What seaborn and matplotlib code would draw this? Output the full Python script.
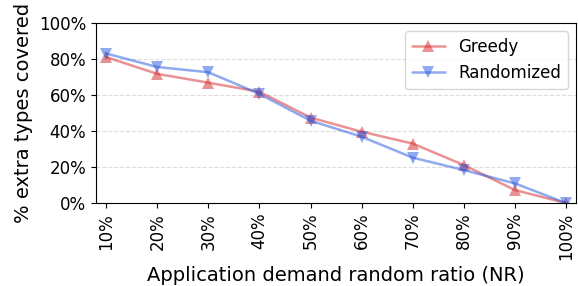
import matplotlib
matplotlib.use("Agg")
import matplotlib.pyplot as plt
import seaborn as sns
import pandas as pd
from matplotlib.ticker import PercentFormatter

ratios = ["10%", "20%", "30%", "40%", "50%", "60%", "70%", "80%", "90%", "100%"]
greedy = [81, 71.7, 66.8, 61.8, 47.4, 39.6, 33.0, 21.1, 7.2, 0]
randomized = [83, 75.5, 72.6, 60.6, 45.7, 36.8, 25.2, 18.3, 10.9, 0]

df = pd.DataFrame({
    "ratio": ratios * 2,
    "covered": greedy + randomized,
    "method": ["Greedy"] * len(ratios) + ["Randomized"] * len(ratios),
})

sns.set_style("ticks")
plt.rcParams["font.family"] = ["DejaVu Sans"]
plt.rcParams["text.color"] = "black"
plt.rcParams["axes.labelcolor"] = "black"
plt.rcParams["xtick.color"] = "black"
plt.rcParams["ytick.color"] = "black"

fig, ax = plt.subplots(figsize=(5.78, 2.86), dpi=100)
sns.lineplot(data=df, x="ratio", y="covered", hue="method", style="method",
             markers={"Greedy": "^", "Randomized": "v"}, dashes=False,
             palette={"Greedy": "#d62728", "Randomized": "#2356e0"},
             alpha=0.5, linewidth=1.8, markersize=8, markeredgewidth=0,
             sort=False, ax=ax)

ax.set_ylim(0, 100)
ax.set_xlim(-0.2, 9.2)
ax.yaxis.set_major_formatter(PercentFormatter(decimals=0))
ax.set_yticks(range(0, 101, 20))
ax.grid(axis="y", linestyle="--", color="#dddddd", linewidth=0.8)
ax.set_axisbelow(True)
ax.tick_params(axis="x", rotation=90, labelsize=12)
ax.tick_params(axis="y", labelsize=12)
ax.set_xlabel("Application demand random ratio (NR)", fontsize=14)
ax.set_ylabel("% extra types covered", fontsize=14)
for s in ax.spines.values():
    s.set_visible(True)
    s.set_color("black")
ax.legend(title=None, fontsize=12, loc="upper right")

fig.subplots_adjust(left=0.166, right=0.997, top=0.92, bottom=0.29)
fig.savefig("out.png", dpi=100)
